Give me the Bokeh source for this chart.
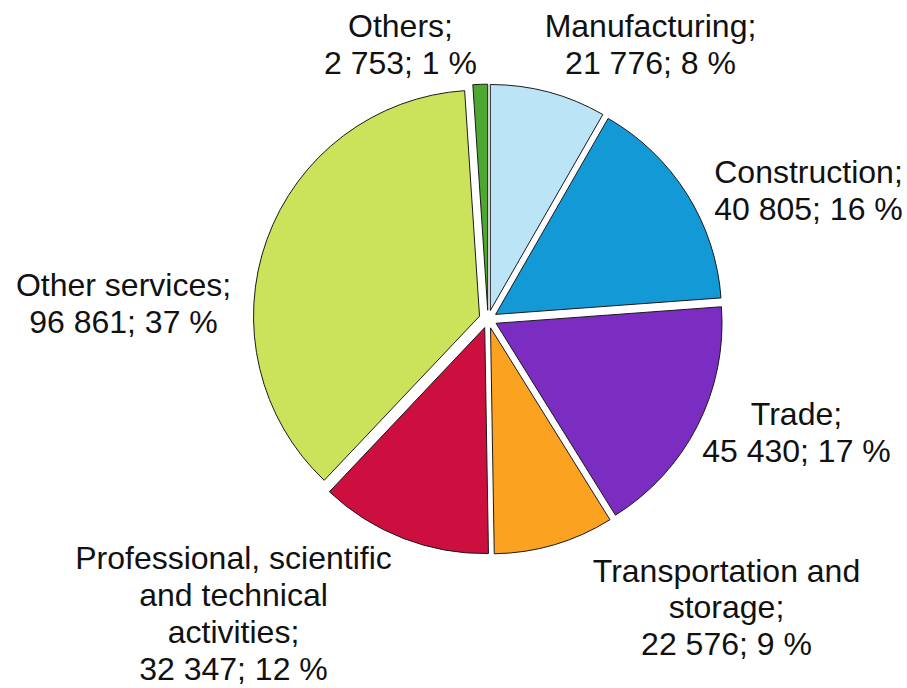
import math
from bokeh.plotting import figure
from bokeh.models import Range1d, ColumnDataSource
from bokeh.embed import file_html
from bokeh.resources import INLINE
from bokeh.core.properties import value

# ---- data ----
categories = ["Manufacturing", "Construction", "Trade", "Transportation and\nstorage",
              "Professional, scientific\nand technical\nactivities", "Other services", "Others"]
values = [21776, 40805, 45430, 22576, 32347, 96861, 2753]
colors = ["#BBE4F6", "#1399D6", "#7A2DC0", "#FBA220", "#CC0F3F", "#CAE35A", "#4CA830"]

# ---- layout (page pixel coordinates, y downward) ----
W, H = 907, 688
CX, CY = 487.5, 318.7
R = 226
EXPLODE = 9
label_pos = [(650, 44), (808, 190), (796, 432), (726, 607), (233, 613), (123, 303), (400, 44)]

total = sum(values)

def fmt(v):
    return f"{v:,}".replace(",", " ")

xs, ys, starts, ends = [], [], [], []
cum = 0.0
for v in values:
    t1 = cum / total * 2 * math.pi
    cum += v
    t2 = cum / total * 2 * math.pi
    # clockwise from top -> math angle
    a_start = math.pi / 2 - t2
    a_end = math.pi / 2 - t1
    mid = (a_start + a_end) / 2
    xs.append(CX + EXPLODE * math.cos(mid))
    ys.append(-CY + EXPLODE * math.sin(mid))
    starts.append(a_start)
    ends.append(a_end)

src = ColumnDataSource(dict(x=xs, y=ys, start=starts, end=ends, color=colors))

p = figure(width=W, height=H, output_backend="svg", toolbar_location=None,
           x_range=Range1d(0, W), y_range=Range1d(-H, 0),
           min_border=0, min_border_left=0, min_border_right=0,
           min_border_top=0, min_border_bottom=0)
p.axis.visible = False
p.grid.visible = False
p.outline_line_color = None
p.background_fill_color = "white"
p.border_fill_color = "white"

p.wedge(x="x", y="y", radius=R, start_angle="start", end_angle="end",
        fill_color="color", line_color="#1a1a1a", line_width=1, source=src)

labels = []
for c, v in zip(categories, values):
    pct = round(v / total * 100)
    labels.append(f"{c};\n{fmt(v)}; {pct} %")

lsrc = ColumnDataSource(dict(x=[lp[0] for lp in label_pos], y=[-lp[1] for lp in label_pos], text=labels))
p.text(x="x", y="y", text="text", source=lsrc, text_align="center", text_baseline="middle",
       text_font=value("Liberation Sans"), text_font_size="32px", text_color="#111111",
       text_line_height=1.02)

open("out.html", "w").write(file_html(p, INLINE))
